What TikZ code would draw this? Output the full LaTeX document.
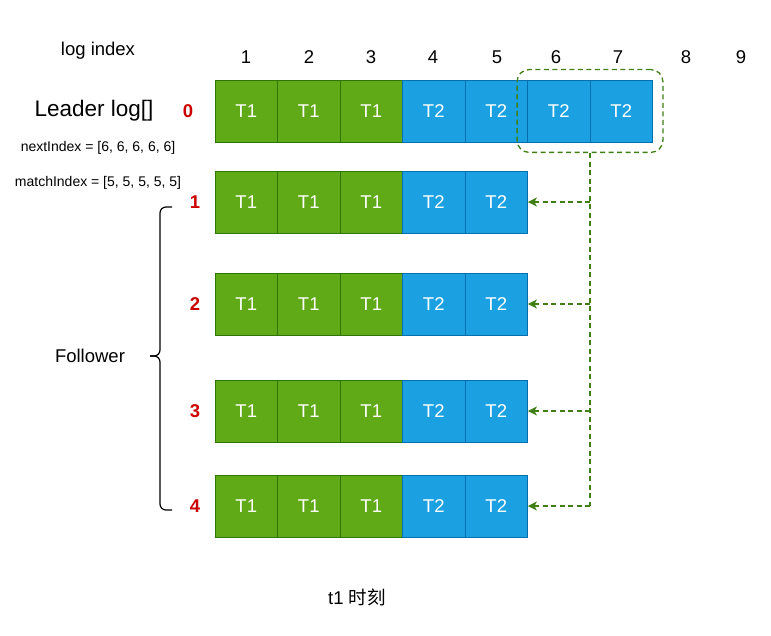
\documentclass[tikz,border=0pt]{standalone}
\usepackage{fontspec}
\setmainfont{Liberation Sans}
\newfontfamily\cjk{Noto Sans CJK SC}
\usepackage{tikz}
\usetikzlibrary{arrows.meta,positioning,fit}
\definecolor{termgreen}{HTML}{60A917}
\definecolor{termgreenline}{HTML}{2D7600}
\definecolor{termblue}{HTML}{1BA1E2}
\definecolor{termblueline}{HTML}{006EAF}
\definecolor{rowred}{HTML}{CC0000}
\definecolor{feedgreen}{HTML}{3F7F14}

\begin{document}
\begin{tikzpicture}[x=1pt,y=-1pt,font=\fontsize{18.5}{22}\selectfont,
    cell/.style={draw,minimum width=62.5pt,minimum height=62pt,inner sep=0pt,text=white,line width=0.8pt},
    tone/.style={cell,fill=termgreen,draw=termgreenline},
    ttwo/.style={cell,fill=termblue,draw=termblueline},
    rowid/.style={text=rowred,font=\fontsize{18.5}{22}\selectfont\bfseries},
    feed/.style={draw=feedgreen,line width=1.3pt,dash pattern=on 5pt off 3.5pt}]
\useasboundingbox (0,0) rectangle (771,636);

% index row
\node (idx) at (98,51) {log index};
\foreach \i/\x in {1/246,2/309,3/371,4/433,5/497,6/556,7/618,8/686,9/741}
    \node (n\i) at (\x,57) {\i};

% leader
\node[font=\fontsize{22.5}{26}\selectfont] (leader) at (94,111) {Leader log[]};
\node[font=\fontsize{14}{16}\selectfont] (next) at (98,148) {nextIndex = [6, 6, 6, 6, 6]};
\node[font=\fontsize{14}{16}\selectfont] (match) at (98,183) {matchIndex = [5, 5, 5, 5, 5]};
\node[rowid] (r0) at (188,111) {0};
\foreach \i in {1,2,3}
    \node[tone] (L\i) at (183.75+62.5*\i,111) {T1};
\foreach \i in {4,...,7}
    \node[ttwo] (L\i) at (183.75+62.5*\i,111) {T2};

% followers
\foreach \r/\y in {1/202,2/304,3/411,4/506} {
    \node[rowid] (r\r) at (195,\y) {\r};
    \foreach \i in {1,2,3}
        \node[tone] (F\r-\i) at (183.75+62.5*\i,\y) {T1};
    \foreach \i in {4,5}
        \node[ttwo] (F\r-\i) at (183.75+62.5*\i,\y) {T2};
}

\node (follower) at (90,356) {Follower};
\draw[line width=1.2pt,rounded corners=6pt] (172,207) -- (160,207) -- (160,356) -- (150,356);
\draw[line width=1.2pt,rounded corners=6pt] (172,510) -- (160,510) -- (160,356) -- (150,356);

% entries sent
\node[fit=(L6)(L7),feed,rounded corners=12pt,inner sep=10pt] (sent) {};
\draw[feed] (sent.south) -- (sent.south |- F4-5.east);
\foreach \r in {1,...,4}
    \draw[feed,-{Stealth[length=9pt,width=9pt,inset=2.5pt]}] (sent.south |- F\r-5.east) -- (F\r-5.east);

\node (time) at (357,597) {t1 {\cjk 时刻}};
\end{tikzpicture}
\end{document}
